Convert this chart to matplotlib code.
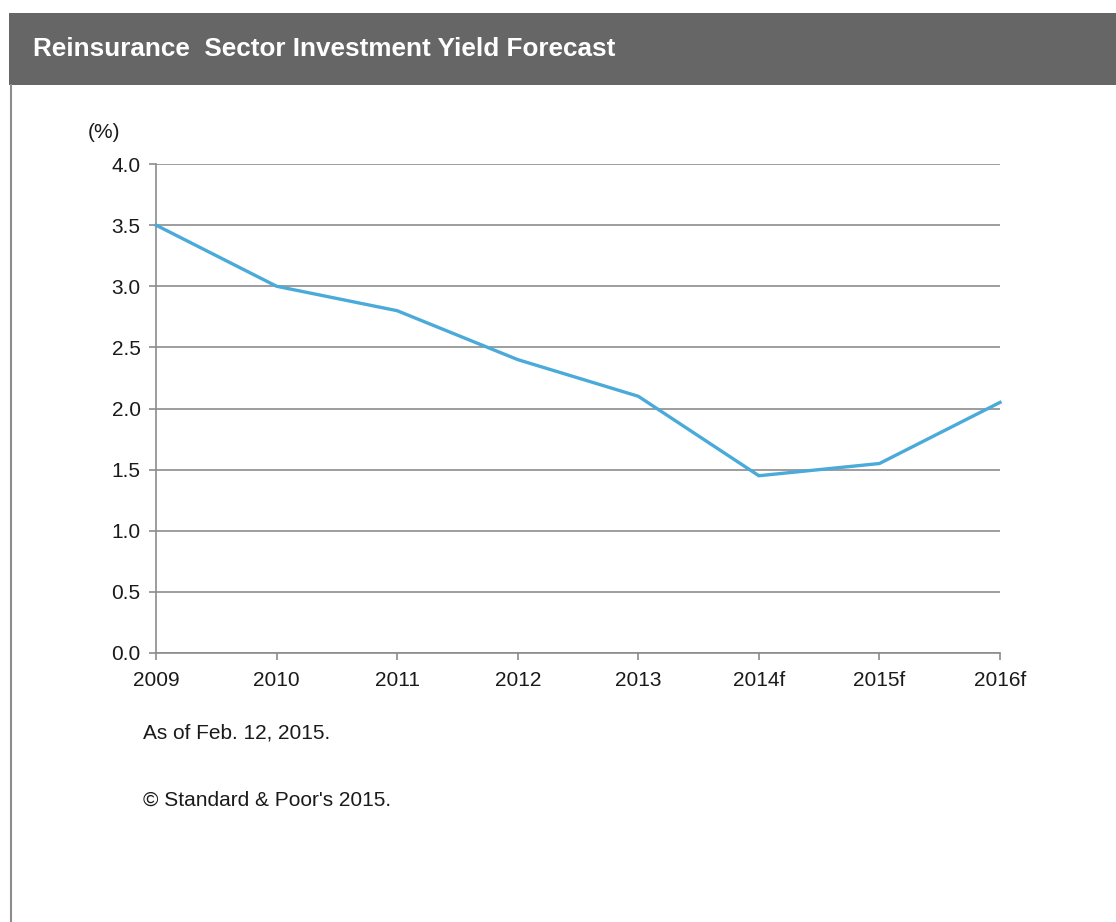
import matplotlib.pyplot as plt
from matplotlib.patches import Rectangle
from matplotlib.lines import Line2D

years = ["2009", "2010", "2011", "2012", "2013", "2014f", "2015f", "2016f"]
yield_pct = [3.5, 3.0, 2.8, 2.4, 2.1, 1.45, 1.55, 2.05]
y_ticks = [0.0, 0.5, 1.0, 1.5, 2.0, 2.5, 3.0, 3.5, 4.0]

plt.rcParams["font.family"] = ["Liberation Sans", "DejaVu Sans"]

W, H = 1116, 922
fig = plt.figure(figsize=(W / 100, H / 100), dpi=100)
fig.patch.set_facecolor("white")

# header bar and left border
fig.add_artist(Rectangle((9 / W, 1 - 85 / H), 1 - 9 / W, 72 / H,
                         transform=fig.transFigure, facecolor="#666666",
                         edgecolor="none"))
fig.add_artist(Line2D([11 / W, 11 / W], [0, 1 - 85 / H], transform=fig.transFigure,
                      color="#8c8c8c", lw=1.5))
fig.text(33 / W, 1 - 49 / H, "Reinsurance  Sector Investment Yield Forecast",
         color="white", fontsize=18.8, fontweight="bold", va="center", ha="left")

ax = fig.add_axes([156 / W, 1 - 653 / H, (1000 - 156) / W, (653 - 164) / H])
x = list(range(len(years)))
ax.plot(x, yield_pct, color="#4aaad9", lw=2.4, solid_joinstyle="miter", zorder=3,
        clip_on=False)

ax.set_xlim(0, len(years) - 1)
ax.set_ylim(0, 4.0)
ax.set_xticks(x)
ax.set_xticklabels(years)
ax.set_yticks(y_ticks)
ax.set_yticklabels([f"{v:.1f}" for v in y_ticks])

ax.grid(axis="y", color="#8c8c8c", lw=1.2)
ax.set_axisbelow(True)
for side in ["top", "right"]:
    ax.spines[side].set_visible(False)
for side in ["left", "bottom"]:
    ax.spines[side].set_color("#8c8c8c")
    ax.spines[side].set_linewidth(1.2)
ax.tick_params(axis="both", colors="#8c8c8c", labelcolor="#1a1a1a",
               labelsize=15, length=5, width=1.2)
ax.tick_params(axis="x", pad=8)
ax.tick_params(axis="y", pad=6)

fig.text(88 / W, 1 - 132 / H, "(%)", fontsize=15, color="#1a1a1a", va="center")
fig.text(143 / W, 1 - 733 / H, "As of Feb. 12, 2015.", fontsize=15,
         color="#1a1a1a", va="center")
fig.text(143 / W, 1 - 800 / H, "\u00a9 Standard & Poor's 2015.", fontsize=15,
         color="#1a1a1a", va="center")

fig.savefig("out.png", dpi=100)
